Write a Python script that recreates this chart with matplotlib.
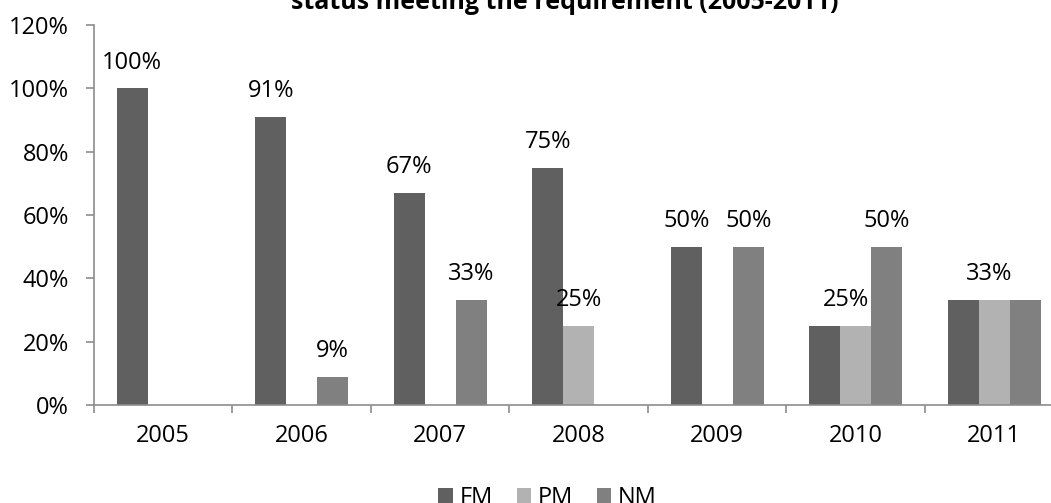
import numpy as np
import matplotlib.pyplot as plt
from matplotlib.ticker import FixedLocator, PercentFormatter

plt.rcParams['font.family'] = ['Open Sans', 'DejaVu Sans']

# Data
years = ['2005', '2006', '2007', '2008', '2009', '2010', '2011']
fm = [100, 91, 67, 75, 50, 25, 33.3]
pm = [0, 0, 0, 25, 0, 25, 33.3]
nm = [0, 9, 33.3, 0, 50, 50, 33.3]

# which bars carry a label (series, year index, text)
labels = [('FM', 0, '100%'), ('FM', 1, '91%'), ('NM', 1, '9%'),
          ('FM', 2, '67%'), ('NM', 2, '33%'), ('FM', 3, '75%'),
          ('PM', 3, '25%'), ('FM', 4, '50%'), ('NM', 4, '50%'),
          ('FM/PM', 5, '25%'), ('NM', 5, '50%'), ('PM', 6, '33%')]

colors = {'FM': '#606060', 'PM': '#b2b2b2', 'NM': '#808080'}
axis_color = '#8c8c8c'
fs = 17

fig = plt.figure(figsize=(10.51, 5.03), dpi=100)
ax = fig.add_axes([0.0894, 0.1948, 0.9225, 0.7555])

x = np.arange(len(years))
w = 0.224
xs = {'FM': x - w, 'PM': x, 'NM': x + w}
vals = {'FM': fm, 'PM': pm, 'NM': nm}
for name in ['FM', 'PM', 'NM']:
    ax.bar(xs[name], vals[name], width=w, color=colors[name], label=name)

for name, i, txt in labels:
    if name == 'FM/PM':
        xp = (xs['FM'][i] + xs['PM'][i]) / 2 + 0.04
        yp = fm[i]
    else:
        xp = xs[name][i]
        yp = vals[name][i]
    if name == 'PM' and i == 6:
        xp = xs['PM'][i] - 0.04
    ax.annotate(txt, (xp, yp), xytext=(0, 14), textcoords='offset points',
                ha='center', va='baseline', fontsize=fs)

ax.set_xlim(-0.5, len(years) - 0.5)
ax.set_ylim(0, 120)
ax.set_yticks(np.arange(0, 121, 20))
ax.yaxis.set_major_formatter(PercentFormatter(decimals=0))
ax.set_xticks(x)
ax.set_xticklabels(years)
ax.xaxis.set_minor_locator(FixedLocator(np.arange(-0.5, len(years), 1)))

for s in ['top', 'right']:
    ax.spines[s].set_visible(False)
for s in ['left', 'bottom']:
    ax.spines[s].set_color(axis_color)
    ax.spines[s].set_linewidth(1.2)

ax.tick_params(axis='y', direction='out', length=6, width=1.2, color=axis_color,
               labelsize=fs, pad=12)
ax.tick_params(axis='x', which='major', length=0, labelsize=fs, pad=14)
ax.tick_params(axis='x', which='minor', direction='out', length=6, width=1.2,
               color=axis_color)

fig.text(0.537, 0.982, 'status meeting the requirement (2005-2011)',
         ha='center', va='baseline', fontsize=18, fontweight='bold')

fig.legend(loc='center', bbox_to_anchor=(0.521, 0.01), ncol=3, frameon=False,
           fontsize=fs, handlelength=0.6, handleheight=0.6, handletextpad=0.3,
           columnspacing=1.0)

fig.savefig('out.png', dpi=100)
